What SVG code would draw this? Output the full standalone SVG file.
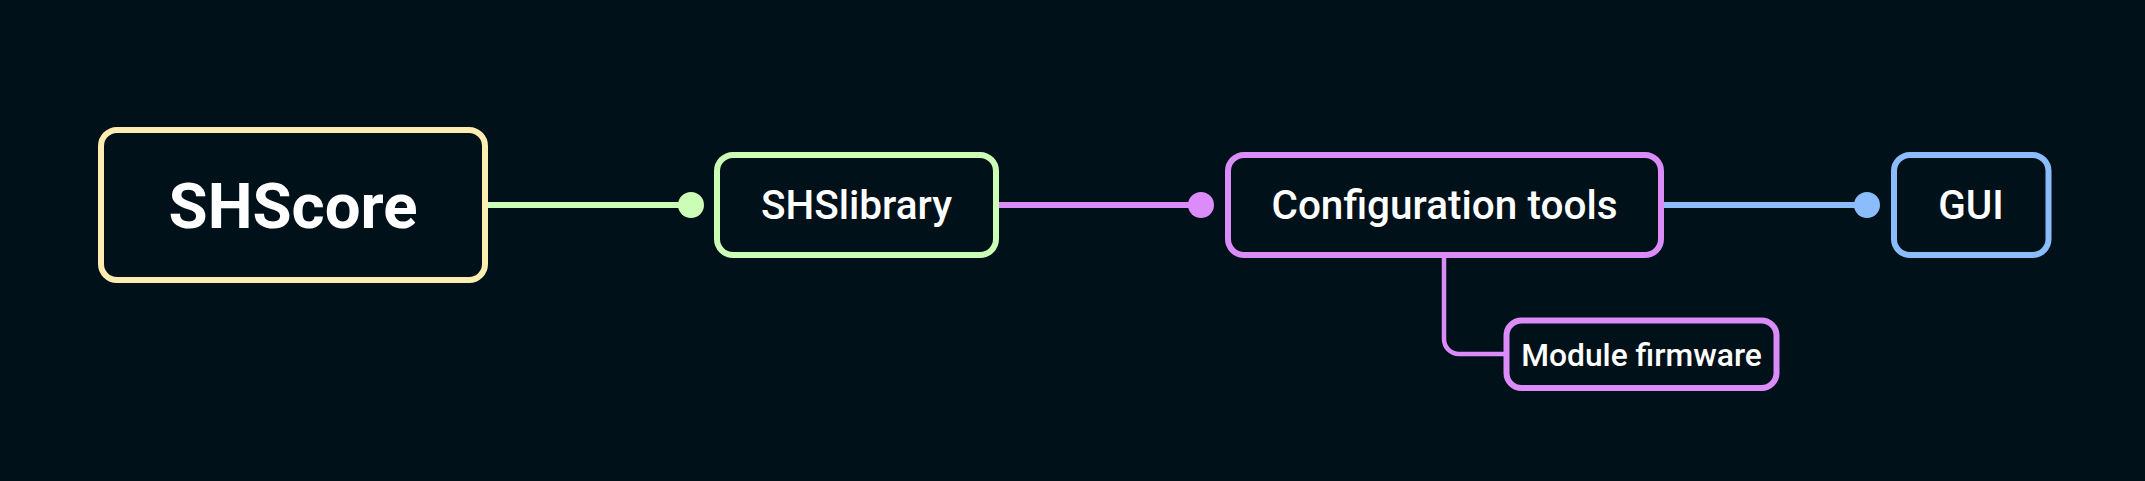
<svg xmlns="http://www.w3.org/2000/svg" width="2145" height="481" viewBox="0 0 2145 481">
<style>
.box{fill:#01111a;stroke-width:6}
.lbl{font-family:Roboto,"Liberation Sans",sans-serif;fill:#ffffff;text-anchor:middle;font-weight:500}
.yel{stroke:#fdedb0}
.grn{stroke:#ccfdb6}
.pur{stroke:#db8cf8}
.blu{stroke:#8bbcfb}
.edge{fill:none;stroke-width:6}
</style>
<rect width="2145" height="481" fill="#01111a"/>
<g id="connectors">
<line class="edge grn" x1="488" y1="205" x2="691" y2="205"/>
<circle cx="691" cy="205" r="13" fill="#ccfdb6"/>
<line class="edge pur" x1="999" y1="205" x2="1201" y2="205"/>
<circle cx="1201" cy="205" r="13" fill="#db8cf8"/>
<line class="edge blu" x1="1664" y1="205" x2="1867" y2="205"/>
<circle cx="1867" cy="205" r="13" fill="#8bbcfb"/>
<path class="pur" fill="none" stroke-width="4.5" d="M1444,257 V339 A15,15 0 0 0 1459,354 H1506"/>
</g>
<g id="shscore">
<rect class="box yel" x="101" y="130" width="384" height="150" rx="16"/>
<text class="lbl" x="293" y="227.5" font-size="63.5" style="font-weight:700">SHScore</text>
</g>
<g id="shslibrary">
<rect class="box grn" x="717" y="155" width="279" height="100" rx="16"/>
<text class="lbl" x="856.5" y="218.5" font-size="40.5">SHSlibrary</text>
</g>
<g id="configuration-tools">
<rect class="box pur" x="1228" y="155" width="433" height="100" rx="16"/>
<text class="lbl" x="1444.5" y="218.5" font-size="40.5">Configuration tools</text>
</g>
<g id="gui">
<rect class="box blu" x="1894" y="155" width="154.5" height="100" rx="16"/>
<text class="lbl" x="1971" y="218.5" font-size="40.5">GUI</text>
</g>
<g id="module-firmware">
<rect class="box pur" x="1506.5" y="320.5" width="270" height="67.5" rx="15" stroke-width="4.5"/>
<text class="lbl" x="1641.5" y="365.5" font-size="31.8">Module firmware</text>
</g>
</svg>
